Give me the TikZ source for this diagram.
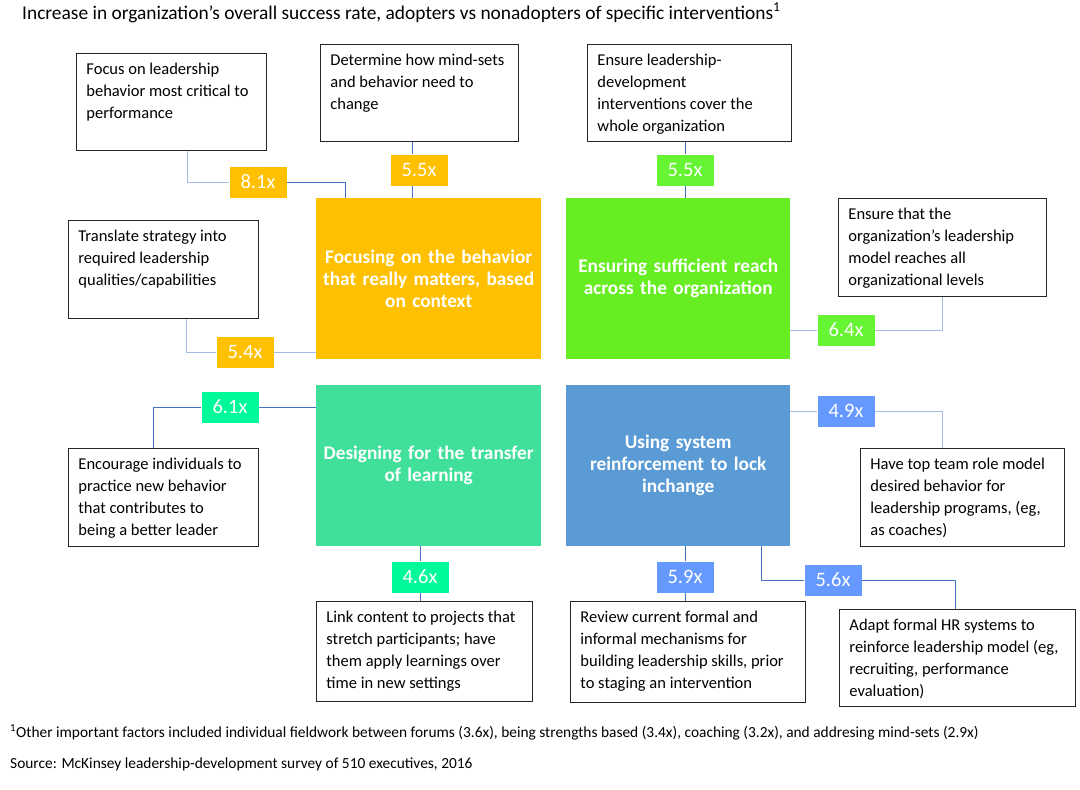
\documentclass[tikz,border=0pt]{standalone}
\usepackage{fontspec}
\setmainfont{Carlito}
\usetikzlibrary{positioning}

\definecolor{focusgold}{HTML}{FFC000}
\definecolor{reachgreen}{HTML}{66EE22}
\definecolor{reachbadge}{HTML}{66F533}
\definecolor{transferteal}{HTML}{40E09A}
\definecolor{transferbadge}{HTML}{00FA9A}
\definecolor{systemblue}{HTML}{5B9BD5}
\definecolor{systembadge}{HTML}{6699FF}
\definecolor{linkblue}{HTML}{4472C4}
\definecolor{linklight}{HTML}{A3BBE6}

\newcommand{\notetext}[3][85pt]{\parbox[t][#1][t]{#2}{\raggedright\strut #3}}

\begin{document}
\begin{tikzpicture}[x=1pt,y=-1pt,
    note/.style={rectangle,draw=black!85,line width=0.9pt,fill=white,anchor=north west,inner xsep=10pt,inner ysep=6pt,font=\fontsize{16.5}{22}\selectfont},
    theme/.style={rectangle,anchor=north west,minimum width=225pt,minimum height=161pt,inner sep=0pt,text width=215pt,align=center,text=white,font=\bfseries\fontsize{19.3}{22}\selectfont},
    badge/.style={rectangle,minimum width=57pt,minimum height=31pt,inner sep=0pt,text=white,font=\fontsize{20.5}{21}\selectfont},
    link/.style={draw=linkblue,line width=0.8pt},
    linksoft/.style={draw=linklight,line width=0.9pt}]
    \useasboundingbox (0,0) rectangle (1080,790);

    \node [anchor=base west,inner sep=0pt,font=\fontsize{19.4}{22}\selectfont] (title) at (22,19) {Increase in organization’s overall success rate, adopters vs nonadopters of specific interventions\textsuperscript{1}};

    \node [theme,fill=focusgold] (behav) at (316,198) {Focusing on the behavior\\that really matters, based\\on context};
    \node [theme,fill=reachgreen,minimum width=224pt] (reach) at (566,198) {Ensuring sufficient reach\\across the organization};
    \node [theme,fill=transferteal] (transfer) at (316,385) {Designing for the transfer\\of learning};
    \node [theme,fill=systemblue,minimum width=224pt] (system) at (566,385) {Using system\\reinforcement to lock\\inchange};

    \node [note] (focus) at (76,53) {\notetext{170pt}{Focus on leadership\\behavior most critical to\\performance}};
    \node [note] (mindsets) at (320,44) {\notetext{178pt}{Determine how mind-sets\\and behavior need to\\change}};
    \node [note] (cover) at (587,44) {\notetext{184pt}{Ensure leadership-\\development\\interventions cover the\\whole organization}};
    \node [note] (strategy) at (68,220) {\notetext[86pt]{170pt}{Translate strategy into\\required leadership\\qualities/capabilities}};
    \node [note] (levels) at (838,198) {\notetext[86pt]{188pt}{Ensure that the\\organization’s leadership\\model reaches all\\organizational levels}};
    \node [note] (practice) at (68,448) {\notetext[86pt]{170pt}{Encourage individuals to\\practice new behavior\\that contributes to\\being a better leader}};
    \node [note] (rolemodel) at (860,448) {\notetext[86pt]{184pt}{Have top team role model\\desired behavior for\\leadership programs, (eg,\\as coaches)}};
    \node [note] (stretch) at (316,601) {\notetext[88pt]{196pt}{Link content to projects that\\stretch participants; have\\them apply learnings over\\time in new settings}};
    \node [note] (review) at (570,601) {\notetext[89pt]{215pt}{Review current formal and\\informal mechanisms for\\building leadership skills, prior\\to staging an intervention}};
    \node [note] (hrsystems) at (839,609) {\notetext[85pt]{216pt}{Adapt formal HR systems to\\reinforce leadership model (eg,\\recruiting, performance\\evaluation)}};

    \node [badge,fill=focusgold] (b81) at (258,182) {8.1x};
    \node [badge,fill=focusgold] (b55o) at (419,170) {5.5x};
    \node [badge,fill=reachbadge] (b55g) at (685,170) {5.5x};
    \node [badge,fill=focusgold] (b54) at (245,352) {5.4x};
    \node [badge,fill=reachbadge] (b64) at (846,330) {6.4x};
    \node [badge,fill=transferbadge] (b61) at (230,407) {6.1x};
    \node [badge,fill=systembadge] (b49) at (846,411) {4.9x};
    \node [badge,fill=transferbadge] (b46) at (420,577) {4.6x};
    \node [badge,fill=systembadge] (b59) at (685,577) {5.9x};
    \node [badge,fill=systembadge] (b56) at (833,580) {5.6x};

    \draw [linksoft] ([xshift=16pt]focus.south) |- (b81.west);
    \draw [link] (b81.east) -| ([xshift=29pt]behav.north west);
    \draw [link] ([xshift=-7pt]b55o.north) -- ([xshift=-7pt]b55o.north |- mindsets.south);
    \draw [link] ([xshift=-7pt]b55o.south) -- ([xshift=-7pt]b55o.south |- behav.north);
    \draw [link] (b55g.north) -- (b55g.north |- cover.south);
    \draw [link] (b55g.south) -- (b55g.south |- reach.north);
    \draw [linksoft] ([xshift=23pt]strategy.south) |- (b54.west);
    \draw [linksoft] (b54.east) -- (b54.east -| behav.west);
    \draw [linksoft] (reach.east |- b64.west) -- (b64.west);
    \draw [linksoft] (b64.east) -| (levels.south);
    \draw [link] (transfer.west |- b61.east) -- (b61.east);
    \draw [link] (b61.west) -| ([xshift=-10pt]practice.north);
    \draw [linksoft] (system.east |- b49.west) -- (b49.west);
    \draw [linksoft] (b49.east) -| ([xshift=-20pt]rolemodel.north);
    \draw [link] (transfer.south -| b46.north) -- (b46.north);
    \draw [link] (b46.south) -- (b46.south |- stretch.north);
    \draw [link] (system.south -| b59.north) -- (b59.north);
    \draw [link] (b59.south) -- (b59.south |- review.north);
    \draw [link] ([xshift=195pt]system.south west) |- (b56.west);
    \draw [link] (b56.east) -| ([xshift=-2pt]hrsystems.north);

    \node [anchor=base west,inner sep=0pt,font=\fontsize{15.4}{18}\selectfont] (footnote) at (10,737) {\textsuperscript{1}Other important factors included individual fieldwork between forums (3.6x), being strengths based (3.4x), coaching (3.2x), and addresing mind-sets (2.9x)};
    \node [anchor=base west,inner sep=0pt,font=\fontsize{15.4}{18}\selectfont] (source) at (10,768) {Source: McKinsey leadership-development survey of 510 executives, 2016};
\end{tikzpicture}
\end{document}
